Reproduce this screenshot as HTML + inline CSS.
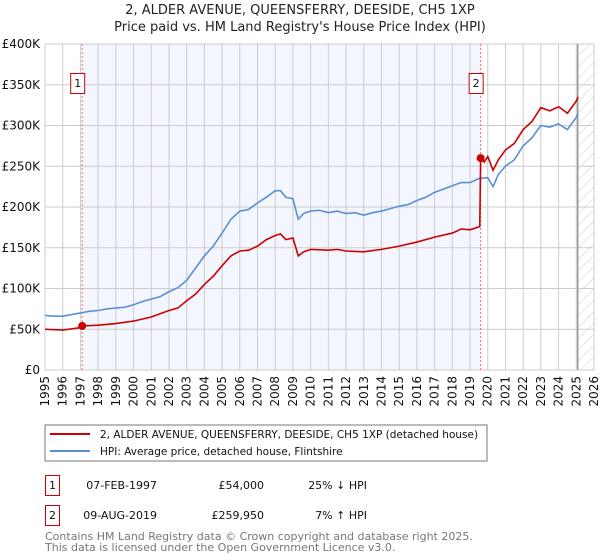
<!DOCTYPE html>
<html><head><meta charset="utf-8"><style>
body{margin:0;background:#fff;}
svg{display:block;font-family:"DejaVu Sans","Liberation Sans",sans-serif;}
</style></head><body>
<svg id="c" width="600" height="560" viewBox="0 0 600 560">
<defs><pattern id="hatch" width="8" height="8" patternUnits="userSpaceOnUse" patternTransform="rotate(45)"><line x1="0" y1="0" x2="0" y2="8" stroke="#ccc" stroke-width="1"/></pattern></defs>
<text x="300" y="14" text-anchor="middle" font-size="13" fill="#222">2, ALDER AVENUE, QUEENSFERRY, DEESIDE, CH5 1XP</text>
<text x="300" y="31" text-anchor="middle" font-size="13" fill="#222">Price paid vs. HM Land Registry's House Price Index (HPI)</text>
<g id="grid"></g><g id="series"></g><g id="axes"></g>
<rect x="45" y="425" width="442" height="36" fill="#fff" stroke="#777"/>
<line x1="50" y1="434" x2="90" y2="434" stroke="#cc0000" stroke-width="2"/>
<text x="100" y="438" font-size="10.5" fill="#111">2, ALDER AVENUE, QUEENSFERRY, DEESIDE, CH5 1XP (detached house)</text>
<line x1="50" y1="451" x2="90" y2="451" stroke="#5b8fd4" stroke-width="2"/>
<text x="100" y="455" font-size="10.5" fill="#111">HPI: Average price, detached house, Flintshire</text>
<g font-size="11" fill="#111">
<rect x="45.5" y="475.5" width="14" height="20" fill="none" stroke="#cc0000"/>
<text x="52.5" y="489" text-anchor="middle">1</text>
<text x="157" y="489" text-anchor="end">07-FEB-1997</text>
<text x="264" y="489" text-anchor="end">£54,000</text>
<text x="367" y="489" text-anchor="end">25% ↓ HPI</text>
<rect x="45.5" y="505.5" width="14" height="20" fill="none" stroke="#cc0000"/>
<text x="52.5" y="519" text-anchor="middle">2</text>
<text x="157" y="519" text-anchor="end">09-AUG-2019</text>
<text x="264" y="519" text-anchor="end">£259,950</text>
<text x="367" y="519" text-anchor="end">7% ↑ HPI</text>
</g>
<text x="45" y="540" font-size="11" fill="#777">Contains HM Land Registry data © Crown copyright and database right 2025.</text>
<text x="45" y="551" font-size="11" fill="#777">This data is licensed under the Open Government Licence v3.0.</text>
</svg>
<script>
const yTicks=[0,50,100,150,200,250,300,350,400];
const yTickLabels=["£0","£50K","£100K","£150K","£200K","£250K","£300K","£350K","£400K"];
const xYears=[1995,1996,1997,1998,1999,2000,2001,2002,2003,2004,2005,2006,2007,2008,2009,2010,2011,2012,2013,2014,2015,2016,2017,2018,2019,2020,2021,2022,2023,2024,2025,2026];
const hpiT=[1995,1995.5,1996,1996.5,1997,1997.5,1998,1998.5,1999,1999.5,2000,2000.5,2001,2001.5,2002,2002.5,2003,2003.5,2004,2004.5,2005,2005.5,2006,2006.5,2007,2007.5,2008,2008.3,2008.6,2009,2009.3,2009.6,2010,2010.5,2011,2011.5,2012,2012.5,2013,2013.5,2014,2014.5,2015,2015.5,2016,2016.5,2017,2017.5,2018,2018.5,2019,2019.5,2020,2020.3,2020.6,2021,2021.5,2022,2022.5,2023,2023.5,2024,2024.5,2025,2025.1];
const hpiV=[67,66,66,68,70,72,73,75,76,77,80,84,87,90,96,101,110,125,140,152,168,185,195,197,205,212,220,220,212,210,185,192,195,196,193,195,192,193,190,193,195,198,201,203,208,212,218,222,226,230,230,235,236,225,240,250,258,275,285,300,298,302,295,310,315];
const redT=[1995,1996,1997,1997.1,1998,1999,2000,2001,2002,2002.5,2003,2003.5,2004,2004.5,2005,2005.5,2006,2006.5,2007,2007.5,2008,2008.3,2008.6,2009,2009.3,2009.6,2010,2011,2011.5,2012,2013,2014,2015,2016,2017,2018,2018.5,2019,2019.55,2019.6,2019.8,2020,2020.3,2020.6,2021,2021.5,2022,2022.5,2023,2023.5,2024,2024.5,2025,2025.1];
const redV=[50,49,52,54,55,57,60,65,73,76,85,93,105,115,128,140,146,147,152,160,165,167,160,162,140,145,148,147,148,146,145,148,152,157,163,168,173,172,176,260,255,262,245,258,270,278,295,305,322,318,323,315,330,335];
const saleT=[1997.1,2019.6];
const saleV=[54,259.95];
const saleLabels=["1","2"];
const NS='http://www.w3.org/2000/svg';
const X=t=>45+(t-1995)*(549/31), Y=v=>370-v*0.815;
function mk(tag,attrs,parent){const e=document.createElementNS(NS,tag);for(const k in attrs)e.setAttribute(k,attrs[k]);parent.appendChild(e);return e;}
const g=document.getElementById('grid'),s=document.getElementById('series'),a=document.getElementById('axes');
let r=mk('rect',{x:X(saleT[0]),y:44,width:X(saleT[1])-X(saleT[0]),height:326,fill:'#f3f6fe'},g);


r=mk('rect',{x:X(2025.08),y:44,width:594-X(2025.08),height:326,fill:'url(#hatch)'},g);


xYears.forEach(yr=>{const l=mk('line',{x1:X(yr),x2:X(yr),y1:44,y2:370,stroke:'#ccc'},g);


const t=mk('text',{x:0,y:0,'font-size':12,fill:'#111','text-anchor':'end',transform:`translate(${X(yr)+4},376) rotate(-90)`},a);t.textContent=yr;

});
yTicks.forEach((v,i)=>{const l=mk('line',{x1:45,x2:594,y1:Y(v),y2:Y(v),stroke:'#ccc'},g);


const t=mk('text',{x:40,y:Y(v)+4,'font-size':12,fill:'#111','text-anchor':'end'},a);t.textContent=yTickLabels[i];

});
let vl=mk('line',{x1:X(2025.08),x2:X(2025.08),y1:44,y2:370,stroke:'#999','stroke-width':1.5},g);


saleT.forEach((t,i)=>{const l=mk('line',{x1:X(t),x2:X(t),y1:44,y2:370,stroke:'#f66','stroke-dasharray':'2,2'},g);


const b=mk('rect',{x:X(t)-11.5,y:73.5,width:14,height:20,fill:'#fff',stroke:'#cc0000'},a);


const tx=mk('text',{x:X(t)-4.5,y:87,'font-size':11,fill:'#111','text-anchor':'middle'},a);tx.textContent=saleLabels[i];

});
let p=mk('polyline',{points:hpiT.map((t,i)=>X(t)+','+Y(hpiV[i])).join(' '),fill:'none',stroke:'#5b8fd4','stroke-width':1.6},s);


p=mk('polyline',{points:redT.map((t,i)=>X(t)+','+Y(redV[i])).join(' '),fill:'none',stroke:'#cc0000','stroke-width':1.6},s);


saleT.forEach((t,i)=>{const c=mk('circle',{cx:X(t),cy:Y(saleV[i]),r:4,fill:'#cc0000'},s);

});
</script>
</body></html>
